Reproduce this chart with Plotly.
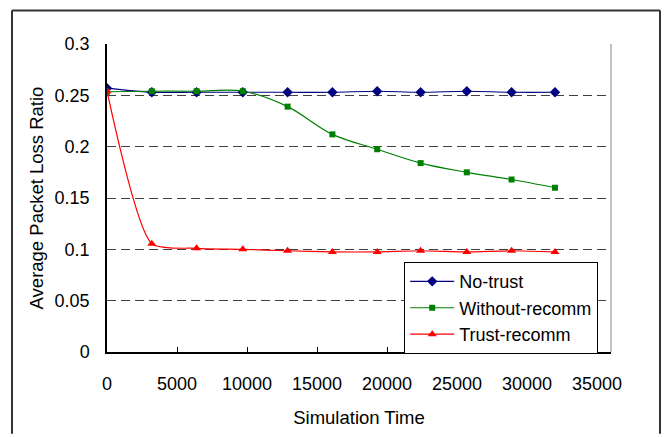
import plotly.graph_objects as go

sim_time = [0, 3200, 6400, 9700, 12900, 16100, 19300, 22400, 25700, 28900, 32000]
no_trust = [0.257, 0.253, 0.253, 0.253, 0.253, 0.253, 0.254, 0.253, 0.254, 0.253, 0.253]
without_recomm = [0.2535, 0.254, 0.254, 0.254, 0.239, 0.212, 0.1975, 0.184, 0.175, 0.168, 0.16]
trust_recomm = [0.254, 0.1055, 0.101, 0.1, 0.0986, 0.0975, 0.0975, 0.0986, 0.0975, 0.0986, 0.0975]

x_ticks = [0, 5000, 10000, 15000, 20000, 25000, 30000, 35000]
x_labels = ["0", "5000", "10000", "15000", "20000", "25000", "30000", "35000"]
y_ticks = [0, 0.05, 0.1, 0.15, 0.2, 0.25, 0.3]
y_labels = ["0", "0.05", "0.1", "0.15", "0.2", "0.25", "0.3"]

FONT = "Liberation Sans, Arial, sans-serif"

fig = go.Figure()
series = [
    ("No-trust", no_trust, "#000080", "diamond", 8, 1.0),
    ("Without-recomm", without_recomm, "#008000", "square", 6, 1.0),
    ("Trust-recomm", trust_recomm, "#FF0000", "triangle-up", 8, 0.6),
]
for name, ys, col, sym, ms, sm in series:
    fig.add_trace(go.Scatter(
        x=sim_time, y=ys, name=name, mode="lines+markers",
        line=dict(color=col, width=1.2, shape="spline", smoothing=sm),
        marker=dict(color=col, symbol=sym, size=ms),
    ))

W, H = 666, 437
L, R, T, B = 107, 55, 44, 80
pw, ph = W - L - R, H - T - B

def px_x(p):
    return (p - L) / pw

def px_y(p):
    return (H - B - p) / ph

fig.update_layout(
    width=W, height=H,
    margin=dict(l=L, r=R, t=T, b=B),
    paper_bgcolor="white", plot_bgcolor="white",
    font=dict(family=FONT, size=18, color="black"),
    showlegend=True,
    legend=dict(
        x=px_x(404), y=px_y(359), xanchor="left", yanchor="bottom",
        bordercolor="black", borderwidth=1.2, bgcolor="white",
        font=dict(size=18), tracegroupgap=0, itemwidth=44,
    ),
    xaxis=dict(
        range=[0, 36000], tickvals=x_ticks, ticktext=x_labels, ticks="inside", ticklen=5,
        tickcolor="black", showline=True, linecolor="black", linewidth=1.5,
        showgrid=False, zeroline=False, ticklabelstandoff=15,
        title=dict(text="Simulation Time", standoff=18, font=dict(size=18.5)),
    ),
    yaxis=dict(
        range=[0, 0.3], tickvals=y_ticks, ticktext=y_labels, ticks="",
        showline=True, linecolor="black", linewidth=1.5,
        showgrid=True, gridcolor="#404040", griddash="9px,5px", gridwidth=1,
        zeroline=False, ticklabelstandoff=12,
        title=dict(text="Average Packet Loss Ratio", standoff=6, font=dict(size=18.5)),
    ),
    shapes=[
        dict(type="line", xref="paper", yref="paper", x0=1, x1=1, y0=0, y1=1,
             line=dict(color="#999999", width=1.2)),
        dict(type="line", xref="paper", yref="paper", x0=px_x(12), x1=px_x(12),
             y0=px_y(10), y1=px_y(440), line=dict(color="#333333", width=2)),
        dict(type="line", xref="paper", yref="paper", x0=px_x(12), x1=px_x(660),
             y0=px_y(10), y1=px_y(10), line=dict(color="#333333", width=2)),
        dict(type="line", xref="paper", yref="paper", x0=px_x(660), x1=px_x(660),
             y0=px_y(10), y1=px_y(440), line=dict(color="#333333", width=2)),
    ],
)

fig.write_html("out.html")
